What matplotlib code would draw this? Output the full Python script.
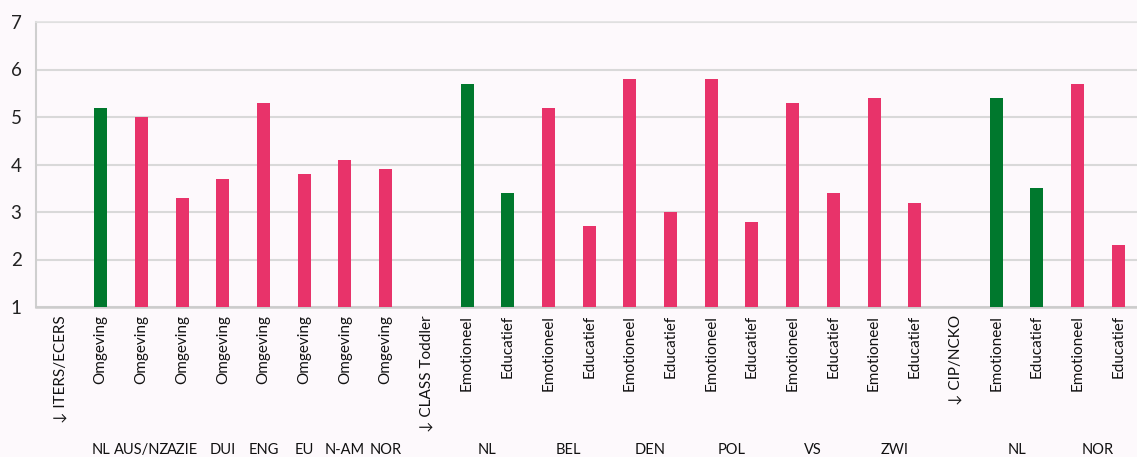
import matplotlib
matplotlib.use("Agg")
import matplotlib.pyplot as plt
import matplotlib.transforms as mtransforms
import numpy as np

plt.rcParams['font.family'] = ['Lato', 'DejaVu Sans']

# ---- data ----
categories = ["↓ ITERS/ECERS",
              "Omgeving", "Omgeving", "Omgeving", "Omgeving", "Omgeving", "Omgeving", "Omgeving", "Omgeving",
              "↓ CLASS Toddler",
              "Emotioneel", "Educatief", "Emotioneel", "Educatief", "Emotioneel", "Educatief",
              "Emotioneel", "Educatief", "Emotioneel", "Educatief", "Emotioneel", "Educatief",
              "↓ CIP/NCKO",
              "Emotioneel", "Educatief", "Emotioneel", "Educatief"]
values = [np.nan,
          5.2, 5.0, 3.3, 3.7, 5.3, 3.8, 4.1, 3.9,
          np.nan,
          5.7, 3.4, 5.2, 2.7, 5.8, 3.0, 5.8, 2.8, 5.3, 3.4, 5.4, 3.2,
          np.nan,
          5.4, 3.5, 5.7, 2.3]
is_nl = [False,
         True, False, False, False, False, False, False, False,
         False,
         True, True, False, False, False, False, False, False, False, False, False, False,
         False,
         True, True, False, False]
group_labels = ["NL", "AUS/NZ", "AZIE", "DUI", "ENG", "EU", "N-AM", "NOR",
                "NL", "BEL", "DEN", "POL", "VS", "ZWI",
                "NL", "NOR"]
group_positions = [1, 2, 3, 4, 5, 6, 7, 8,
                   10.5, 12.5, 14.5, 16.5, 18.5, 20.5,
                   23.5, 25.5]
yticks = [1, 2, 3, 4, 5, 6, 7]

GREEN = "#00782D"
PINK = "#E8336A"
BG = "#FDF9FC"

W, H = 1137, 457
fig = plt.figure(figsize=(W / 100, H / 100), dpi=100, facecolor=BG)

left_px, right_px = 35.6, 1142.7
top_px, bottom_px = 22, 307
ax = fig.add_axes([left_px / W, 1 - bottom_px / H, (right_px - left_px) / W, (bottom_px - top_px) / H])
ax.set_facecolor(BG)

x = np.arange(len(categories))
colors = [GREEN if g else PINK for g in is_nl]
ax.bar(x, values, width=0.32, color=colors, zorder=3)

ax.set_xlim(-0.6, len(categories) - 0.4)
ax.set_ylim(1, 7)
ax.set_yticks(yticks)
ax.set_yticklabels([str(v) for v in yticks], fontsize=13.5, color="#222222")
ax.set_xticks(x)
ax.set_xticklabels(categories, rotation=90, fontsize=11, color="#111111", va="top", ha="center")
ax.tick_params(axis='both', length=0)
ax.tick_params(axis='x', pad=6)
ax.tick_params(axis='y', pad=14)
for lbl in ax.get_yticklabels():
    lbl.set_horizontalalignment('center')

ax.yaxis.grid(True, color="#D9D9D9", linewidth=1.5, zorder=0)
ax.set_axisbelow(True)

ax.spines["right"].set_visible(False)
ax.spines["left"].set_color("#CFCFCF")
ax.spines["left"].set_linewidth(1.5)
ax.spines["bottom"].set_color("#CCCCCC")
ax.spines["bottom"].set_linewidth(1.8)
ax.spines["top"].set_color("#E2E2E2")
ax.spines["top"].set_linewidth(1.2)

trans = mtransforms.blended_transform_factory(ax.transData, fig.transFigure)
for pos, lab in zip(group_positions, group_labels):
    ax.text(pos, 1 - 450 / H, lab, transform=trans, ha="center", va="center",
            fontsize=10.5, color="#111111")

fig.savefig("out.png", dpi=100, facecolor=BG)
